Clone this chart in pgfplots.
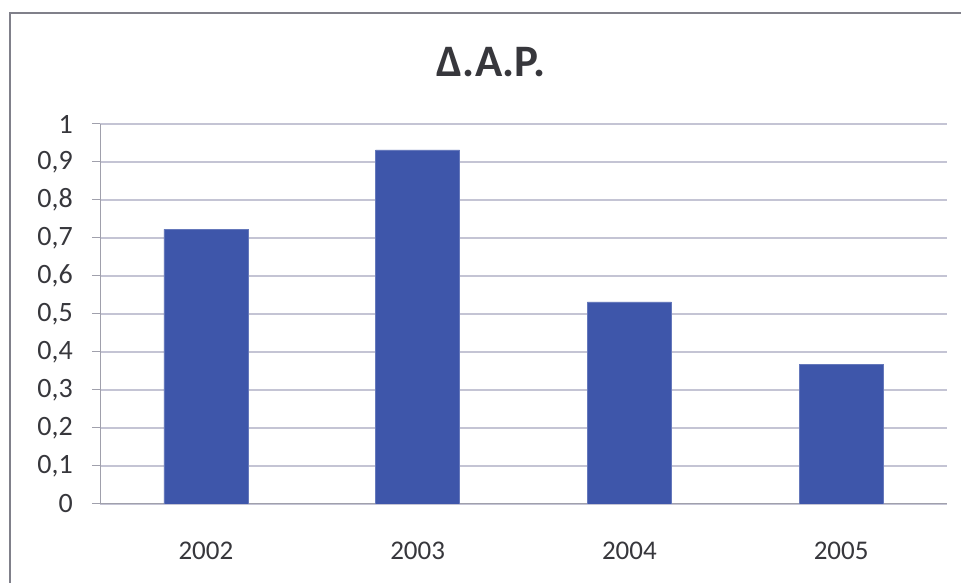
\documentclass[border=0pt]{standalone}
\usepackage{pgfplots}
\pgfplotsset{compat=1.18}
\usepackage{fontspec}
\setmainfont{Carlito}
\definecolor{barblue}{RGB}{62,86,170}
\definecolor{gridc}{RGB}{196,196,212}
\definecolor{axisc}{RGB}{160,160,172}
\definecolor{labc}{RGB}{55,55,60}
\begin{document}
\begin{tikzpicture}[x=1pt,y=1pt]
  \useasboundingbox (0,0) rectangle (961,583);
  % frame of the (cropped) chart area
  \draw[axisc!80!black, line width=2.5pt] (10,-10) -- (10,570) -- (975,570);
  \node[font=\fontsize{45}{50}\selectfont\bfseries, text=labc] at (491,521) {Δ.Α.Ρ.};
  \begin{axis}[
    at={(100pt,79pt)}, anchor=south west,
    scale only axis,
    width=847pt, height=380pt,
    ybar, bar width=84pt,
    xmin=-0.5, xmax=3.5,
    ymin=0, ymax=1,
    axis x line*=bottom, axis y line*=left,
    axis line style={draw=axisc, line width=1pt},
    xtick={0,1,2,3},
    xticklabels={2002,2003,2004,2005},
    xtick style={draw=none},
    extra x ticks={-0.5,0.5,1.5,2.5,3.5},
    extra x tick labels={},
    extra x tick style={grid=none, tick style={draw=axisc, line width=1pt}},
    ytick={0,0.1,0.2,0.3,0.4,0.5,0.6,0.7,0.8,0.9,1},
    ytick style={draw=axisc, line width=1pt},
    tick align=outside,
    major tick length=8pt,
    ymajorgrids,
    grid style={draw=gridc, line width=1.2pt},
    /pgf/number format/assume math mode=true,
    /pgf/number format/use comma,
    yticklabel style={font=\fontsize{28}{30}\selectfont, text=labc, inner sep=0pt, xshift=-19pt},
    xticklabel style={font=\fontsize{27}{30}\selectfont, text=labc, inner sep=0pt, yshift=-30pt},
    enlarge x limits=false,
  ]
    \addplot[fill=barblue, draw=barblue!80!white] coordinates {
      (0,0.723) (1,0.932) (2,0.532) (3,0.368)};
  \end{axis}
\end{tikzpicture}
\end{document}
